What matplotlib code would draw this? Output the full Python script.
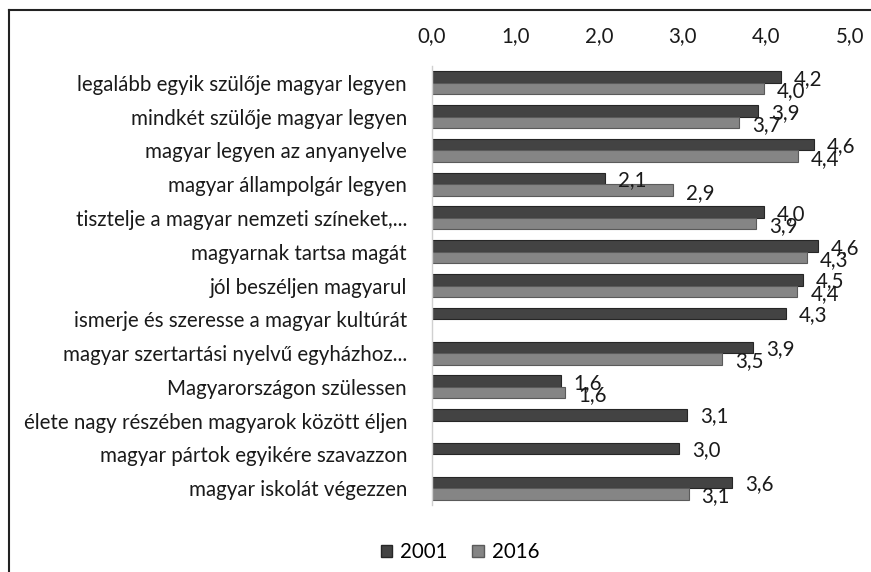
import matplotlib
matplotlib.use("Agg")
import matplotlib.pyplot as plt
import numpy as np
from matplotlib.lines import Line2D
from matplotlib.patches import Patch

categories = [
    "legalább egyik szülője magyar legyen",
    "mindkét szülője magyar legyen",
    "magyar legyen az anyanyelve",
    "magyar állampolgár legyen",
    "tisztelje a magyar nemzeti színeket,...",
    "magyarnak tartsa magát",
    "jól beszéljen magyarul",
    "ismerje és szeresse a magyar kultúrát",
    "magyar szertartási nyelvű egyházhoz...",
    "Magyarországon szülessen",
    "élete nagy részében magyarok között éljen",
    "magyar pártok egyikére szavazzon",
    "magyar iskolát végezzen",
]
series_names = ["2001", "2016"]
values_2001 = [4.17, 3.90, 4.57, 2.07, 3.97, 4.62, 4.44, 4.23, 3.84, 1.54, 3.05, 2.96, 3.59]
values_2016 = [3.97, 3.67, 4.38, 2.88, 3.88, 4.48, 4.37, None, 3.47, 1.59, None, None, 3.07]
labels_2001 = ["4,2", "3,9", "4,6", "2,1", "4,0", "4,6", "4,5", "4,3", "3,9", "1,6", "3,1", "3,0", "3,6"]
labels_2016 = ["4,0", "3,7", "4,4", "2,9", "3,9", "4,3", "4,4", None, "3,5", "1,6", None, None, "3,1"]
xticks = [0, 1, 2, 3, 4, 5]
xtick_labels = ["0,0", "1,0", "2,0", "3,0", "4,0", "5,0"]

FONT = "Lato"
FS = 14.8
dark = "#434343"
dark_edge = "#262626"
light = "#858585"
light_edge = "#5a5a5a"

W, H = 871, 572
fig = plt.figure(figsize=(W / 100, H / 100), dpi=100)
ax = fig.add_axes([432 / W, 1 - 505 / H, (850 - 432) / W, (505 - 66) / H])

y = np.arange(len(categories))
bh = 0.34
for i in range(len(categories)):
    v1 = values_2001[i]
    if v1 is not None:
        ax.barh(y[i] - bh / 2, v1, height=bh, color=dark, edgecolor=dark_edge, linewidth=0.8)
        ax.annotate(labels_2001[i], (v1, y[i] - bh / 2 + 0.05), xytext=(13, 0),
                    textcoords="offset pixels",
                    ha="left", va="center", fontsize=FS, family=FONT, color="#1a1a1a")
    v2 = values_2016[i]
    if v2 is not None:
        ax.barh(y[i] + bh / 2, v2, height=bh, color=light, edgecolor=light_edge, linewidth=0.8)
        ax.annotate(labels_2016[i], (v2, y[i] + bh / 2 + 0.08), xytext=(13, 0),
                    textcoords="offset pixels",
                    ha="left", va="center", fontsize=FS, family=FONT, color="#1a1a1a")

ax.set_xlim(0, 5)
ax.set_ylim(len(categories) - 0.5, -0.5)
ax.set_yticks(y)
ax.set_yticklabels(categories, fontsize=FS, family=FONT, color="#1a1a1a")
ax.set_xticks(xticks)
ax.set_xticklabels(xtick_labels, fontsize=FS, family=FONT, color="#1a1a1a")
ax.xaxis.tick_top()
ax.tick_params(axis="x", length=0, pad=14)
ax.tick_params(axis="y", length=0, pad=18)
for s in ["top", "right", "bottom"]:
    ax.spines[s].set_visible(False)
ax.spines["left"].set_color("#d0d0d0")
ax.spines["left"].set_linewidth(1.0)

handles = [Patch(facecolor=dark, edgecolor=dark_edge), Patch(facecolor=light, edgecolor=light_edge)]
fig.legend(handles, series_names, loc="center", bbox_to_anchor=(460 / W, 1 - 552 / H),
           ncol=2, frameon=False, prop={"family": FONT, "size": FS},
           handlelength=0.55, handleheight=0.55, handletextpad=0.4, columnspacing=1.2)

# outer frame (top and left edges visible)
fig.add_artist(Line2D([9 / W, 9 / W], [0, 1 - 10 / H], transform=fig.transFigure, color="#222222", lw=1.5))
fig.add_artist(Line2D([9 / W, 1], [1 - 10 / H, 1 - 10 / H], transform=fig.transFigure, color="#222222", lw=1.5))

fig.savefig("out.png", dpi=100, facecolor="white")
